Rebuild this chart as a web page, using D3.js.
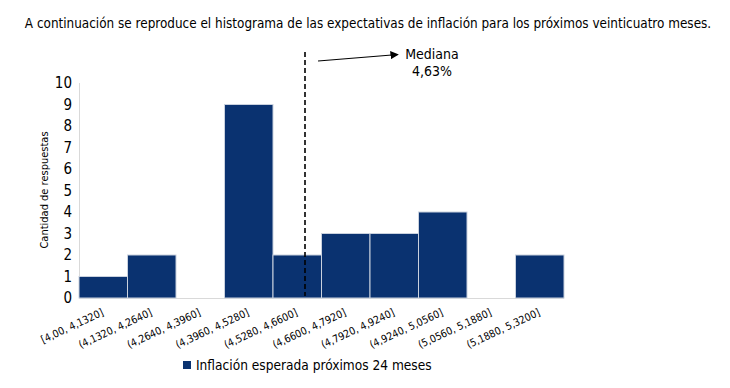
<!DOCTYPE html>
<html><head><meta charset="utf-8">
<script src="https://cdn.jsdelivr.net/npm/d3@7"></script>
<style>body{margin:0;background:#fff}svg{display:block}text{font-family:"DejaVu Sans Condensed","DejaVu Sans",sans-serif;fill:#000}</style>
</head><body><svg id="c" width="730" height="388"></svg>
<script>
const categories = ["[4,00, 4,1320]","(4,1320, 4,2640]","(4,2640, 4,3960]","(4,3960, 4,5280]","(4,5280, 4,6600]","(4,6600, 4,7920]","(4,7920, 4,9240]","(4,9240, 5,0560]","(5,0560, 5,1880]","(5,1880, 5,3200]"];
const values = [1,2,0,9,2,3,3,4,0,2];
const yTicks = [0,1,2,3,4,5,6,7,8,9,10];
const median = 4.63;
const title = "A continuación se reproduce el histograma de las expectativas de inflación para los próximos veinticuatro meses.";
const seriesName = "Inflación esperada próximos 24 meses";
const yTitle = "Cantidad de respuestas";

const svg = d3.select("#c");
const x = d3.scaleBand().domain(categories).range([79,564]).padding(0);
const y = d3.scaleLinear().domain([0,10]).range([298,83]);

svg.append("text").attr("x",368).attr("y",28).attr("font-size",13.4).attr("text-anchor","middle").text(title);

svg.append("line").attr("x1",79.5).attr("x2",79.5).attr("y1",83).attr("y2",298).attr("stroke","#d9d9d9");
svg.append("line").attr("x1",79).attr("x2",564).attr("y1",298.5).attr("y2",298.5).attr("stroke","#d9d9d9");

svg.append("g").selectAll("text").data(yTicks).join("text")
  .attr("x",72).attr("y",d=>y(d)).attr("dy","0.36em").attr("text-anchor","end").attr("font-size",15).text(d=>d);

svg.append("text").attr("transform","translate(48,190) rotate(-90)").attr("text-anchor","middle").attr("font-size",11).text(yTitle);

svg.append("g").selectAll("rect").data(values).join("rect")
  .attr("x",(d,i)=>x(categories[i])).attr("width",x.bandwidth())
  .attr("y",d=>y(d)).attr("height",d=>y(0)-y(d))
  .attr("fill","#0a3270").attr("stroke","#c9d1de").attr("stroke-width",1)
  .attr("visibility",d=>d>0?"visible":"hidden");

svg.append("g").selectAll("text").data(categories).join("text")
  .attr("transform",d=>`translate(${x(d)+x.bandwidth()/2+1},${315}) rotate(-25)`)
  .attr("text-anchor","end").attr("font-size",10.5).text(d=>d);

const mx = 305;
svg.append("line").attr("x1",mx).attr("x2",mx).attr("y1",52).attr("y2",296)
  .attr("stroke","#000").attr("stroke-width",1.6).attr("stroke-dasharray","5,3");

svg.append("defs").append("marker").attr("id","ah").attr("viewBox","0 0 10 10").attr("refX",9).attr("refY",5)
  .attr("markerWidth",7).attr("markerHeight",7).attr("orient","auto")
  .append("path").attr("d","M0,0L10,5L0,10z").attr("fill","#000");
svg.append("line").attr("x1",318).attr("y1",61).attr("x2",398).attr("y2",54.5)
  .attr("stroke","#000").attr("stroke-width",1.2).attr("marker-end","url(#ah)");
svg.append("text").attr("x",432).attr("y",59).attr("text-anchor","middle").attr("font-size",14).text("Mediana");
svg.append("text").attr("x",432).attr("y",76).attr("text-anchor","middle").attr("font-size",14).text(d3.format(".2f")(median).replace(".",",")+"%");

svg.append("rect").attr("x",183).attr("y",361).attr("width",8).attr("height",8).attr("fill","#0a3270");
svg.append("text").attr("x",196).attr("y",365).attr("dy","0.35em").attr("font-size",13.6).text(seriesName);
</script></body></html>
